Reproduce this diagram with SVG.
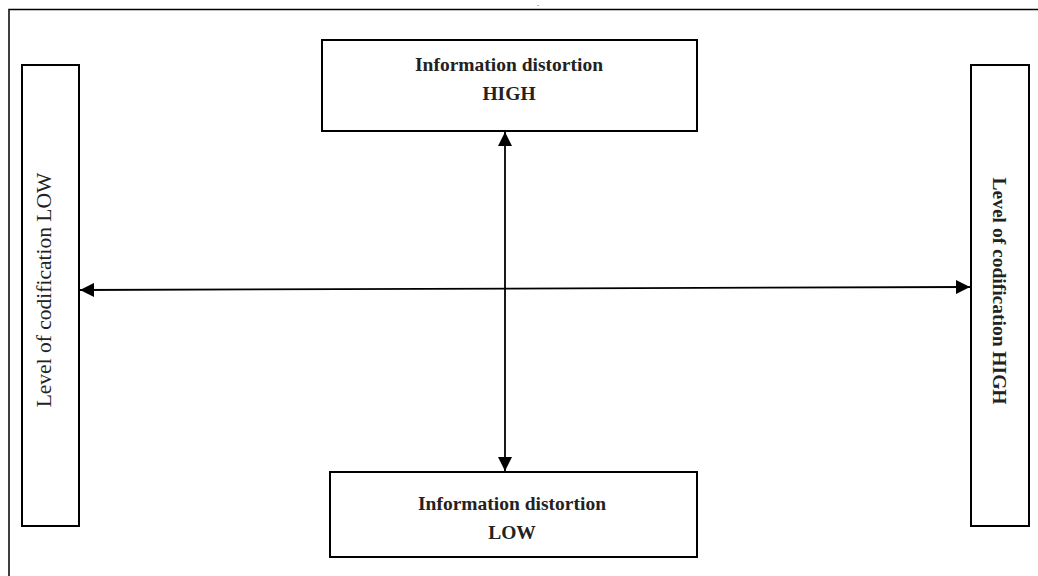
<svg xmlns="http://www.w3.org/2000/svg" width="1038" height="576" viewBox="0 0 1038 576">
<defs>
<style>
.box{fill:#fff;stroke:#000;stroke-width:2}
.frame{fill:none;stroke:#000;stroke-width:1.5}
.conn{stroke:#000;stroke-width:1.8;fill:none}
.tb{font-family:"Liberation Serif",serif;font-weight:bold;font-size:19.5px;fill:#222;text-anchor:middle}
.tn{font-family:"Liberation Serif",serif;font-size:21.5px;fill:#222;text-anchor:middle}
</style>
<marker id="ah" viewBox="0 0 14 14" refX="14" refY="7" markerWidth="14" markerHeight="14" markerUnits="userSpaceOnUse" orient="auto-start-reverse">
<path d="M0,0 L14,7 L0,14 Z" fill="#000"/>
</marker>
</defs>
<rect width="1038" height="576" fill="#fff"/>
<path class="frame" d="M9,576 L9,9.5 L1038,9.5"/>
<text x="538" y="6" font-family="Liberation Serif,serif" font-size="8" text-anchor="middle">.</text>
<g id="connectors">
<line class="conn" x1="80" y1="290" x2="970" y2="287" marker-start="url(#ah)" marker-end="url(#ah)"/>
<line class="conn" x1="505" y1="132" x2="505" y2="471" marker-start="url(#ah)" marker-end="url(#ah)"/>
</g>
<g id="node-top">
<rect class="box" x="322" y="40" width="375" height="91"/>
<text class="tb" x="509" y="71">Information distortion</text>
<text class="tb" x="509" y="100">HIGH</text>
</g>
<g id="node-bottom">
<rect class="box" x="330" y="472" width="367" height="85"/>
<text class="tb" x="512" y="510">Information distortion</text>
<text class="tb" x="512" y="539">LOW</text>
</g>
<g id="node-left">
<rect class="box" x="22" y="65" width="57" height="461"/>
<text class="tn" transform="translate(51,290) rotate(-90)">Level of codification LOW</text>
</g>
<g id="node-right">
<rect class="box" x="971" y="65" width="58" height="461"/>
<text class="tb" transform="translate(993,291) rotate(90)">Level of codification HIGH</text>
</g>
</svg>
